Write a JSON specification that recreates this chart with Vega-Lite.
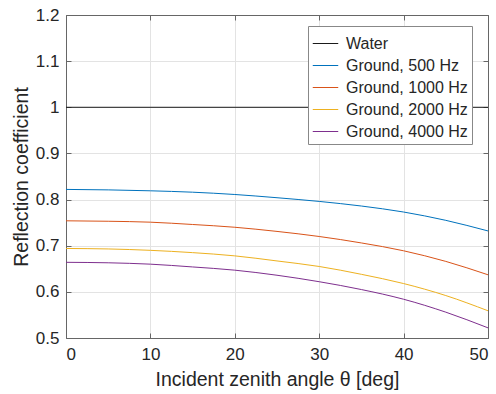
{
  "$schema": "https://vega.github.io/schema/vega-lite/v6.json",
  "autosize": "none",
  "width": 422,
  "height": 323,
  "padding": {"left": 66, "top": 15, "right": 8, "bottom": 56},
  "background": "white",
  "config": {
    "font": "Liberation Sans",
    "view": {"stroke": null},
    "axis": {"labelFont": "Liberation Sans", "titleFont": "Liberation Sans", "labelColor": "#262626", "titleColor": "#262626", "titleFontWeight": "normal"}
  },
  "data": {
    "values": [
      {"angle": 0, "r": 1, "series": "Water"},
      {"angle": 50, "r": 1, "series": "Water"},
      {"angle": 0, "r": 0.822, "series": "Ground, 500 Hz"},
      {"angle": 5, "r": 0.821, "series": "Ground, 500 Hz"},
      {"angle": 10, "r": 0.819, "series": "Ground, 500 Hz"},
      {"angle": 15, "r": 0.816, "series": "Ground, 500 Hz"},
      {"angle": 20, "r": 0.811, "series": "Ground, 500 Hz"},
      {"angle": 25, "r": 0.804, "series": "Ground, 500 Hz"},
      {"angle": 30, "r": 0.796, "series": "Ground, 500 Hz"},
      {"angle": 35, "r": 0.786, "series": "Ground, 500 Hz"},
      {"angle": 40, "r": 0.773, "series": "Ground, 500 Hz"},
      {"angle": 45, "r": 0.755, "series": "Ground, 500 Hz"},
      {"angle": 50, "r": 0.732, "series": "Ground, 500 Hz"},
      {"angle": 0, "r": 0.754, "series": "Ground, 1000 Hz"},
      {"angle": 5, "r": 0.753, "series": "Ground, 1000 Hz"},
      {"angle": 10, "r": 0.751, "series": "Ground, 1000 Hz"},
      {"angle": 15, "r": 0.746, "series": "Ground, 1000 Hz"},
      {"angle": 20, "r": 0.740, "series": "Ground, 1000 Hz"},
      {"angle": 25, "r": 0.731, "series": "Ground, 1000 Hz"},
      {"angle": 30, "r": 0.720, "series": "Ground, 1000 Hz"},
      {"angle": 35, "r": 0.706, "series": "Ground, 1000 Hz"},
      {"angle": 40, "r": 0.689, "series": "Ground, 1000 Hz"},
      {"angle": 45, "r": 0.666, "series": "Ground, 1000 Hz"},
      {"angle": 50, "r": 0.637, "series": "Ground, 1000 Hz"},
      {"angle": 0, "r": 0.694, "series": "Ground, 2000 Hz"},
      {"angle": 5, "r": 0.693, "series": "Ground, 2000 Hz"},
      {"angle": 10, "r": 0.690, "series": "Ground, 2000 Hz"},
      {"angle": 15, "r": 0.685, "series": "Ground, 2000 Hz"},
      {"angle": 20, "r": 0.678, "series": "Ground, 2000 Hz"},
      {"angle": 25, "r": 0.667, "series": "Ground, 2000 Hz"},
      {"angle": 30, "r": 0.655, "series": "Ground, 2000 Hz"},
      {"angle": 35, "r": 0.638, "series": "Ground, 2000 Hz"},
      {"angle": 40, "r": 0.618, "series": "Ground, 2000 Hz"},
      {"angle": 45, "r": 0.592, "series": "Ground, 2000 Hz"},
      {"angle": 50, "r": 0.559, "series": "Ground, 2000 Hz"},
      {"angle": 0, "r": 0.664, "series": "Ground, 4000 Hz"},
      {"angle": 5, "r": 0.663, "series": "Ground, 4000 Hz"},
      {"angle": 10, "r": 0.660, "series": "Ground, 4000 Hz"},
      {"angle": 15, "r": 0.654, "series": "Ground, 4000 Hz"},
      {"angle": 20, "r": 0.647, "series": "Ground, 4000 Hz"},
      {"angle": 25, "r": 0.636, "series": "Ground, 4000 Hz"},
      {"angle": 30, "r": 0.622, "series": "Ground, 4000 Hz"},
      {"angle": 35, "r": 0.605, "series": "Ground, 4000 Hz"},
      {"angle": 40, "r": 0.584, "series": "Ground, 4000 Hz"},
      {"angle": 45, "r": 0.556, "series": "Ground, 4000 Hz"},
      {"angle": 50, "r": 0.522, "series": "Ground, 4000 Hz"}
    ]
  },
  "layer": [
    {
      "mark": {"type": "line", "strokeWidth": 1, "interpolate": "monotone"},
      "encoding": {
        "x": {
          "field": "angle", "type": "quantitative",
          "scale": {"domain": [0, 50], "nice": false, "zero": false},
          "axis": {
            "orient": "bottom", "values": [0, 10, 20, 30, 40, 50],
            "title": "Incident zenith angle θ [deg]", "titleFontSize": 19.5, "titlePadding": 8,
            "labelFontSize": 17, "labelPadding": 13, "tickSize": -5, "tickColor": "#666", "domainColor": "#666",
            "gridColor": "#e3e3e3", "grid": true
          }
        },
        "y": {
          "field": "r", "type": "quantitative",
          "scale": {"domain": [0.5, 1.2], "nice": false, "zero": false},
          "axis": {
            "orient": "left", "values": [0.5, 0.6, 0.7, 0.8, 0.9, 1, 1.1, 1.2], "format": ".2~f",
            "title": "Reflection coefficient", "titleFontSize": 19.5, "titlePadding": 4,
            "labelFontSize": 17, "labelPadding": 12, "tickSize": -5, "tickColor": "#666", "domainColor": "#666",
            "gridColor": "#e3e3e3", "grid": true
          }
        },
        "color": {
          "field": "series", "type": "nominal",
          "scale": {
            "domain": ["Water", "Ground, 500 Hz", "Ground, 1000 Hz", "Ground, 2000 Hz", "Ground, 4000 Hz"],
            "range": ["#1a1a1a", "#0072BD", "#D95319", "#EDB120", "#7E2F8E"]
          },
          "legend": {
            "title": null, "orient": "none", "legendX": 242, "legendY": 11,
            "fillColor": "white", "strokeColor": "#888", "padding": 4,
            "symbolType": "stroke", "symbolSize": 650, "symbolStrokeWidth": 1,
            "labelFontSize": 16, "labelColor": "#262626", "labelOffset": 7, "rowPadding": 0,
            "labelFont": "Liberation Sans"
          }
        }
      }
    },
    {
      "mark": {"type": "line", "opacity": 0},
      "encoding": {
        "x": {
          "field": "angle", "type": "quantitative",
          "scale": {"domain": [0, 50], "nice": false, "zero": false},
          "axis": {"orient": "top", "values": [0, 10, 20, 30, 40, 50], "labels": false, "title": null, "grid": false, "tickSize": -5, "tickColor": "#666", "domainColor": "#666"}
        },
        "y": {
          "field": "r", "type": "quantitative",
          "scale": {"domain": [0.5, 1.2], "nice": false, "zero": false},
          "axis": {"orient": "right", "values": [0.5, 0.6, 0.7, 0.8, 0.9, 1, 1.1, 1.2], "labels": false, "title": null, "grid": false, "tickSize": -5, "tickColor": "#666", "domainColor": "#666"}
        },
        "detail": {"field": "series", "type": "nominal"}
      }
    }
  ],
  "resolve": {"scale": {"x": "independent", "y": "independent"}, "axis": {"x": "independent", "y": "independent"}}
}
